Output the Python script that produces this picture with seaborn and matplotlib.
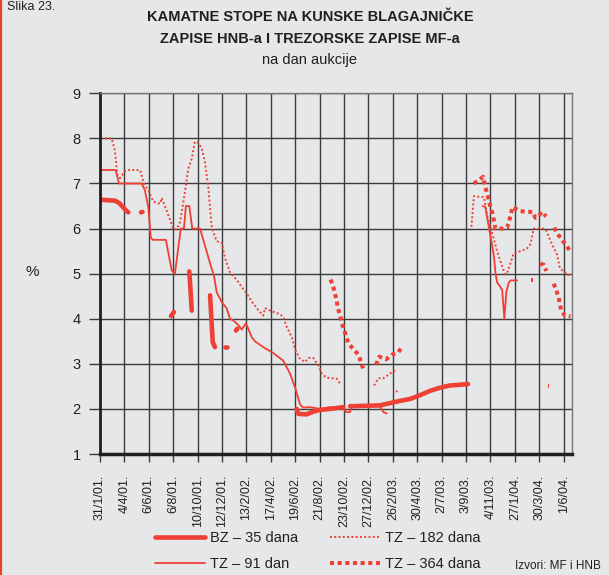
import matplotlib
matplotlib.use('Agg')
import numpy as np
import pandas as pd
import seaborn as sns
from matplotlib import pyplot as plt
from matplotlib.lines import Line2D

# x positions are in units of the labelled ticks (0 = 31/1/01., 19 = 1/6/04.)
# None marks a gap in the series
tick_labels = ['31/1/01.', '4/4/01.', '6/6/01.', '6/8/01.', '10/10/01.', '12/12/01.',
               '13/2/02.', '17/4/02.', '19/6/02.', '21/8/02.', '23/10/02.', '27/12/02.',
               '26/2/03.', '30/4/03.', '2/7/03.', '3/9/03.', '4/11/03.', '27/1/04.',
               '30/3/04.', '1/6/04.']
y_ticks = [1, 2, 3, 4, 5, 6, 7, 8, 9]

bz_x = [0, 0.61, 0.78, 0.94, 1.07, 1.16, None,
        1.68, 1.74, None,
        2.91, 3.03, None,
        3.66, 3.76, None,
        4.51, 4.62, 4.71, None,
        5.13, 5.19, None,
        5.57, 5.63, None,
        8.06, 8.13, 8.47, 8.74, 9.02, 9.43, 9.97, None,
        10.25, 10.93, 11.48, 11.89, 12.3, 12.7, 13.05, 13.52, 13.93, 14.34, 15.08]
bz_y = [6.64, 6.62, 6.57, 6.48, 6.40, 6.36, None,
        6.36, 6.37, None,
        4.06, 4.15, None,
        5.05, 4.18, None,
        4.52, 3.48, 3.37, None,
        3.38, 3.38, None,
        3.74, 3.78, None,
        2.0, 1.89, 1.88, 1.94, 1.98, 2.0, 2.04, None,
        2.06, 2.07, 2.08, 2.13, 2.18, 2.22, 2.29, 2.4, 2.47, 2.52, 2.55]

tz91_x = [0, 0.64, 0.78, 1.71, 1.84, 1.98, 2.08, 2.17, 2.70, 2.94,
          3.07, 3.31, 3.44, 3.52, 3.66, 3.78, 4.10, 4.58, 4.67, 4.78,
          4.99, 5.19, 5.33, 5.49, 5.67, 5.81, 5.98, 6.22, 6.35, 6.69,
          7.10, 7.51, 7.79, 7.99, 8.20, 8.32, 8.61, 9.02, 9.43, 9.96,
          10.08, 10.25, 10.33, 11.07, 11.48, 11.61, 11.75, None,
          15.68, 15.79, 16.14, 16.20, 16.27, 16.41, 16.48, 16.57, 16.65, 16.75, 16.82, 17.09]
tz91_y = [7.3, 7.3, 7.0, 7.0, 6.85, 6.47, 5.8, 5.75, 5.75, 5.07,
          5.0, 6.0, 6.0, 6.5, 6.5, 6.0, 6.0, 5.1, 4.96, 4.59,
          4.37, 4.23, 4.0, 3.95, 3.86, 3.76, 3.9, 3.59, 3.5, 3.37,
          3.24, 3.07, 2.78, 2.48, 2.1, 2.03, 2.04, 2.0, 2.04, 2.04,
          1.93, 1.93, 2.08, 2.08, 2.05, 1.93, 1.9, None,
          6.5, 6.48, 5.4, 5.04, 4.81, 4.7, 4.64, 4.0, 4.6, 4.8, 4.85, 4.85]

tz182_x = [0.20, 0.48, 0.61, 0.71, 0.82, 1.02, 1.09, 1.64, 1.80, 1.98,
           2.18, 2.46, 2.53, 2.73, 2.87, 3.00, 3.14, 3.28, 3.48, 3.62,
           3.76, 3.89, 4.03, 4.17, 4.30, 4.44, 4.58, 4.78, 4.99, 5.12,
           5.33, 5.60, 5.81, 6.01, 6.22, 6.42, 6.56, 6.69, 6.76, 6.97,
           7.38, 7.51, 7.65, 7.86, 7.99, 8.17, 8.40, 8.54, 8.74, 8.95,
           9.09, 9.29, 9.70, 9.84, None,
           11.23, 11.41, 11.61, 11.95, 12.09, None,
           12.13, 12.19, None,
           15.22, 15.27, 15.32, 15.59, 15.73, 15.86, 16.07, 16.27, 16.52, 16.61,
           16.71, 16.77, 16.86, 16.95, 17.23, 17.50, 17.64, 17.70, 17.77, 18.18,
           18.29, 18.52, 18.66, 18.73, 18.84, 18.93, 19.18, 19.34]
tz182_y = [8.0, 8.0, 7.73, 7.2, 7.12, 7.27, 7.3, 7.3, 7.0, 6.85,
           6.6, 6.55, 6.68, 6.4, 6.2, 6.0, 5.98, 6.15, 6.81, 7.33,
           7.55, 7.93, 7.9, 7.78, 7.48, 6.9, 6.02, 5.72, 5.68, 5.35,
           5.02, 4.87, 4.7, 4.56, 4.38, 4.24, 4.15, 4.07, 4.24, 4.18,
           4.1, 4.04, 3.82, 3.59, 3.33, 3.13, 3.04, 3.13, 3.13, 2.96,
           2.78, 2.69, 2.67, 2.56, None,
           2.52, 2.68, 2.68, 2.81, 2.85, None,
           2.38, 2.40, None,
           6.04, 6.37, 6.72, 6.7, 6.7, 6.3, 5.9, 5.5, 5.1, 4.98,
           5.05, 5.15, 5.3, 5.45, 5.5, 5.56, 5.66, 5.8, 6.0, 6.0,
           5.95, 5.65, 5.5, 5.42, 5.13, 5.08, 4.97, 5.0]

tz364_x = [9.45, 9.56, 9.63, 9.70, 9.77, 9.84, 9.91, 10.01, 10.11, 10.20, 10.59, 10.70, 10.79, None,
           11.31, 11.45, 11.72, 11.95, 12.23, 12.39, None,
           15.32, 15.52, 15.70, 15.77, 15.86, 16.00, 16.09, 16.20, 16.50, 16.68,
           16.77, 16.84, 16.91, 17.16, 17.43, 17.73, 17.84, 17.95, 18.11, 18.28, None,
           18.61, 18.77, 18.93, 19.11, 19.27, None,
           17.67, 17.73, None,
           18.04, 18.18, 18.29, None,
           18.34, 18.40, None,
           18.59, 18.70, 18.80, 18.84, 18.91, 19.05, 19.28]
tz364_y = [4.87, 4.7, 4.56, 4.38, 4.2, 4.07, 3.9, 3.74, 3.57, 3.44, 3.2, 3.03, 2.88, None,
           2.98, 3.16, 3.1, 3.2, 3.26, 3.39, None,
           7.0, 7.07, 7.15, 6.96, 6.78, 6.48, 6.33, 6.0, 6.0, 6.02,
           6.18, 6.33, 6.48, 6.4, 6.37, 6.37, 6.24, 6.27, 6.37, 6.27, None,
           6.02, 5.87, 5.75, 5.62, 5.5, None,
           4.85, 4.85, None,
           5.22, 5.2, 5.06, None,
           2.5, 2.5, None,
           4.78, 4.63, 4.45, 4.33, 4.17, 4.07, 4.05]

series_names = ['BZ – 35 dana', 'TZ – 91 dan', 'TZ – 182 dana', 'TZ – 364 dana']

RED = '#ee4035'
BG = '#e6e7e8'
GRID = '#3c3c3c'


def to_frame(xs, ys):
    # split the lists on None into numbered segments
    rows = []
    seg = 0
    for x, y in zip(xs, ys):
        if x is None:
            seg += 1
            continue
        rows.append((x, y, seg))
    return pd.DataFrame(rows, columns=['x', 'y', 'seg'])


sns.set_theme(style='ticks')
plt.rcParams['font.family'] = ['Liberation Sans', 'DejaVu Sans']

fig = plt.figure(figsize=(6.09, 5.75), dpi=100, facecolor=BG)
ax = fig.add_axes([0.1642, 0.2104, 0.775, 0.6273])
ax.set_facecolor(BG)

styles = [
    dict(linewidth=3.3, linestyle='-'),
    dict(linewidth=1.3, linestyle='-'),
    dict(linewidth=1.4, linestyle=(0, (1, 1.2))),
    dict(linewidth=2.9, linestyle=(0, (1, 0.9))),
]
data = [(bz_x, bz_y), (tz91_x, tz91_y), (tz182_x, tz182_y), (tz364_x, tz364_y)]

for (xs, ys), st in zip(data, styles):
    df = to_frame(xs, ys)
    sns.lineplot(data=df, x='x', y='y', units='seg', estimator=None, sort=False,
                 color=RED, dash_capstyle='butt', ax=ax, legend=False, **st)

ax.set_xlim(0, 19.34)
ax.set_ylim(1, 9)
ax.set_xticks(range(len(tick_labels)))
ax.set_xticklabels(tick_labels, rotation=90, fontsize=9, color='#231f20')
ax.set_yticks(y_ticks)
ax.set_yticklabels([str(v) for v in y_ticks], fontsize=10.5, color='#231f20')
ax.set_xlabel('')
ax.set_ylabel('')
ax.grid(True, color=GRID, linewidth=1.0)
ax.set_axisbelow(True)
ax.tick_params(axis='x', length=6, width=1, color=GRID, pad=9)
ax.tick_params(axis='y', length=8, width=1, color=GRID, pad=6)
for side in ['left', 'bottom']:
    ax.spines[side].set_color('#231f20')
ax.spines['left'].set_linewidth(2.0)
ax.spines['bottom'].set_linewidth(2.5)
for side in ['top', 'right']:
    ax.spines[side].set_color('#777777')
    ax.spines[side].set_linewidth(1.0)

fig.text(0.0525, 0.527, '%', fontsize=11, ha='center', va='center', color='#231f20')

fig.text(0.509, 1 - 17 / 575, 'KAMATNE STOPE NA KUNSKE BLAGAJNIČKE', fontsize=10.5,
         fontweight='bold', ha='center', va='center', color='#231f20')
fig.text(0.509, 1 - 39 / 575, 'ZAPISE HNB-a I TREZORSKE ZAPISE MF-a', fontsize=10.5,
         fontweight='bold', ha='center', va='center', color='#231f20')
fig.text(0.509, 1 - 60 / 575, 'na dan aukcije', fontsize=10.5,
         ha='center', va='center', color='#231f20')
fig.text(0.012, 0.999, 'Slika 23.', fontsize=9, ha='left', va='top', color='#231f20')
fig.text(0.8456, 1 - 566 / 575, 'Izvori: MF i HNB', fontsize=8.5, ha='left', va='center',
         color='#231f20')

# red rule on the left edge
fig.add_artist(Line2D([0.002, 0.002], [0, 1], transform=fig.transFigure, color='#e8412c', lw=1.6))

handles = [Line2D([], [], color=RED, dash_capstyle='butt', **st) for st in styles]
leg_kw = dict(frameon=False, loc='upper left', fontsize=10.5, handlelength=3.43,
              handletextpad=0.4, labelspacing=0.8, borderpad=0, borderaxespad=0)
leg1 = fig.legend(handles[:2], series_names[:2], bbox_to_anchor=(0.2537, 0.0765), **leg_kw)
leg2 = fig.legend(handles[2:], series_names[2:], bbox_to_anchor=(0.5412, 0.0765), **leg_kw)
for leg in (leg1, leg2):
    for t in leg.get_texts():
        t.set_color('#231f20')

fig.savefig('out.png', dpi=100, facecolor=BG)
